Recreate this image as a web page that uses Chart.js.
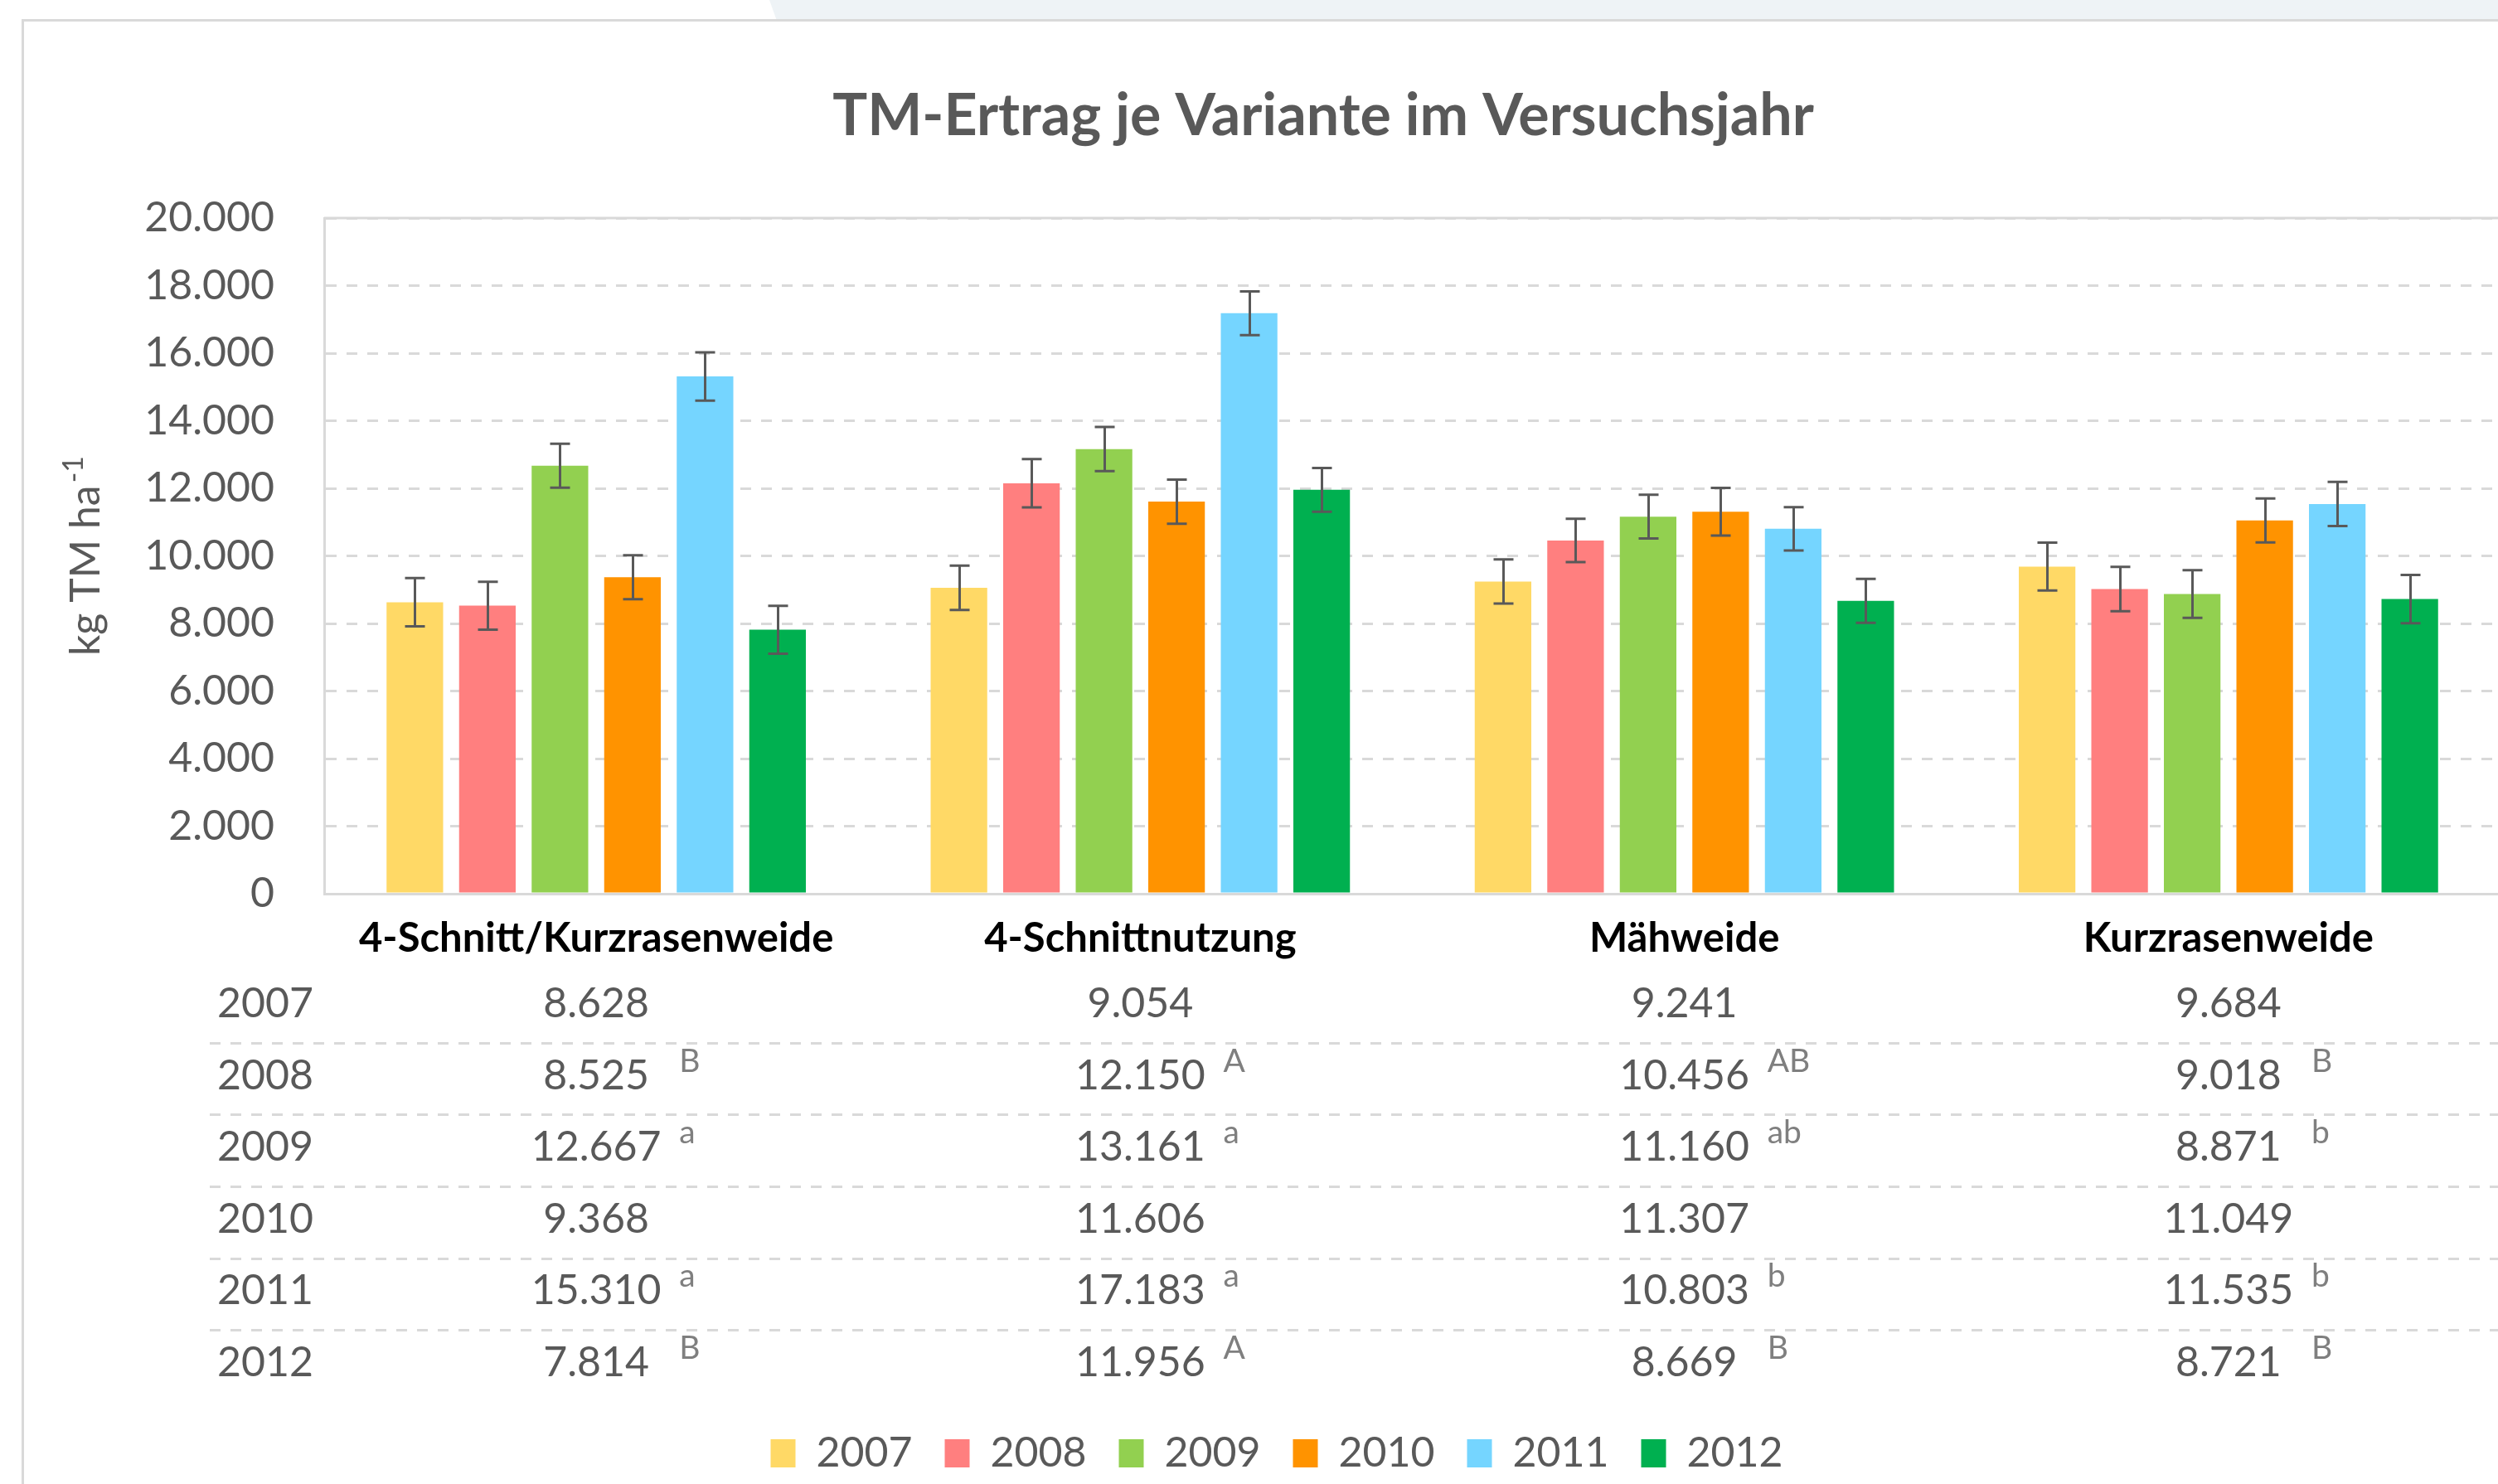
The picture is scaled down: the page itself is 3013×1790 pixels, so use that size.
<!DOCTYPE html>
<html>
<head>
<meta charset="utf-8">
<script src="https://cdn.jsdelivr.net/npm/chart.js@4.4.1/dist/chart.umd.min.js"></script>
<style>
  html, body { margin: 0; padding: 0; background: #ffffff; overflow: hidden; width: 3013px; height: 1790px; }
  #c { display: block; }
</style>
</head>
<body>
<canvas id="c" width="3080" height="1790"></canvas>
<script>
// ---------- data ----------
const chartTitle = 'TM-Ertrag je Variante im Versuchsjahr';
const yAxisTitle = 'kg TM ha';
const yAxisTitleSup = '-1';
const categories = ['4-Schnitt/Kurzrasenweide', '4-Schnittnutzung', 'Mähweide', 'Kurzrasenweide'];
const years = ['2007', '2008', '2009', '2010', '2011', '2012'];

const v2007 = [8628, 9054, 9241, 9684];
const v2008 = [8525, 12150, 10456, 9018];
const v2009 = [12667, 13161, 11160, 8871];
const v2010 = [9368, 11606, 11307, 11049];
const v2011 = [15310, 17183, 10803, 11535];
const v2012 = [7814, 11956, 8669, 8721];

// error bar half-lengths
const e2007 = [715, 655, 653, 707];
const e2008 = [710, 713, 642, 655];
const e2009 = [650, 653, 647, 707];
const e2010 = [650, 653, 707, 653];
const e2011 = [715, 647, 641, 653];
const e2012 = [710, 647, 653, 713];

// significance letters shown in the table
const s2007 = ['', '', '', ''];
const s2008 = ['B', 'A', 'AB', 'B'];
const s2009 = ['a', 'a', 'ab', 'b'];
const s2010 = ['', '', '', ''];
const s2011 = ['a', 'a', 'b', 'b'];
const s2012 = ['B', 'A', 'B', 'B'];

const yMin = 0;
const yMax = 20000;
const yStep = 2000;

// ---------- helpers ----------
const values = [v2007, v2008, v2009, v2010, v2011, v2012];
const errors = [e2007, e2008, e2009, e2010, e2011, e2012];
const letters = [s2007, s2008, s2009, s2010, s2011, s2012];
const colors = ['#FFD966', '#FF7F7F', '#92D050', '#FF9300', '#75D5FF', '#00B050'];
const FONT = 'Lato, "Open Sans", sans-serif';
const GREY = '#595959';
const LINE = '#d9d9d9';

function fmt(v) {
  v = Math.round(v);
  if (v >= 1000) return Math.floor(v / 1000) + '.' + String(v % 1000).padStart(3, '0');
  return String(v);
}

const framePlugin = {
  id: 'frame',
  beforeDraw(chart) {
    const ctx = chart.ctx, W = chart.width, H = chart.height;
    ctx.save();
    ctx.fillStyle = '#ffffff';
    ctx.fillRect(0, 0, W, H);
    ctx.fillStyle = '#eef3f6';
    ctx.beginPath();
    ctx.moveTo(928, 0); ctx.lineTo(W, 0); ctx.lineTo(W, 25); ctx.lineTo(937, 25);
    ctx.closePath(); ctx.fill();
    ctx.strokeStyle = LINE; ctx.lineWidth = 3;
    ctx.beginPath();
    ctx.moveTo(27.5, H + 5); ctx.lineTo(27.5, 24.5); ctx.lineTo(W + 5, 24.5);
    ctx.stroke();
    ctx.restore();
  },
  beforeDatasetsDraw(chart) {
    const ctx = chart.ctx, a = chart.chartArea;
    ctx.save();
    ctx.strokeStyle = LINE; ctx.lineWidth = 3;
    ctx.beginPath();
    ctx.moveTo(a.left, a.top); ctx.lineTo(a.right, a.top); ctx.lineTo(a.right, a.bottom);
    ctx.stroke();
    ctx.restore();
  }
};

const errorBarPlugin = {
  id: 'errorBars',
  afterDatasetsDraw(chart) {
    const ctx = chart.ctx, ys = chart.scales.y;
    ctx.save();
    ctx.strokeStyle = GREY; ctx.lineWidth = 3; ctx.lineCap = 'butt';
    chart.data.datasets.forEach((ds, i) => {
      const meta = chart.getDatasetMeta(i);
      meta.data.forEach((bar, j) => {
        const v = ds.data[j], e = errors[i][j];
        const x = Math.round(bar.x) + 0.5;
        const yt = ys.getPixelForValue(v + e), yb = ys.getPixelForValue(v - e);
        ctx.beginPath();
        ctx.moveTo(x, yt); ctx.lineTo(x, yb);
        ctx.moveTo(x - 12, yt); ctx.lineTo(x + 12, yt);
        ctx.moveTo(x - 12, yb); ctx.lineTo(x + 12, yb);
        ctx.stroke();
      });
    });
    ctx.restore();
  }
};

const textPlugin = {
  id: 'texts',
  afterDraw(chart) {
    const ctx = chart.ctx, a = chart.chartArea, xs = chart.scales.x;
    ctx.save();
    // title
    ctx.fillStyle = GREY;
    ctx.font = 'bold 70px ' + FONT;
    ctx.textAlign = 'center'; ctx.textBaseline = 'alphabetic';
    ctx.fillText(chartTitle, 1596, 163);

    // y-axis title (rotated) with superscript
    ctx.font = '50px ' + FONT;
    const wMain = ctx.measureText(yAxisTitle).width;
    ctx.font = '34px ' + FONT;
    const wSup = ctx.measureText(yAxisTitleSup).width;
    const total = wMain + 3 + wSup;
    const cy = (a.top + a.bottom) / 2;
    ctx.save();
    ctx.translate(120, cy + total / 2);
    ctx.rotate(-Math.PI / 2);
    ctx.textAlign = 'left';
    ctx.font = '50px ' + FONT;
    ctx.fillText(yAxisTitle, 0, 0);
    ctx.font = '34px ' + FONT;
    ctx.fillText(yAxisTitleSup, wMain + 3, -20);
    ctx.restore();

    // data table
    const row0 = a.bottom + 131;
    const pitch = 86.6;
    // separators
    ctx.strokeStyle = LINE; ctx.lineWidth = 3; ctx.setLineDash([13, 12]);
    for (let r = 0; r < years.length - 1; r++) {
      const y = Math.round(row0 + r * pitch + 48.7) + 0.5;
      ctx.beginPath(); ctx.moveTo(253, y); ctx.lineTo(chart.width, y); ctx.stroke();
    }
    ctx.setLineDash([]);
    years.forEach((yr, r) => {
      const cyRow = row0 + r * pitch;
      ctx.fillStyle = GREY;
      ctx.font = '50px ' + FONT;
      ctx.textAlign = 'left';
      ctx.fillText(yr, 262, cyRow + 18);
      categories.forEach((c, i) => {
        const x = xs.getPixelForValue(i);
        ctx.fillStyle = GREY;
        ctx.font = '50px ' + FONT;
        ctx.textAlign = 'center';
        ctx.fillText(fmt(values[r][i]), x, cyRow + 18);
        const L = letters[r][i];
        if (L) {
          ctx.fillStyle = '#7f7f7f';
          ctx.font = '39px ' + FONT;
          ctx.textAlign = 'left';
          ctx.fillText(L, x + 100, cyRow - 3);
        }
      });
    });
    ctx.restore();
  }
};

function draw() {
  const ctx = document.getElementById('c').getContext('2d');
  new Chart(ctx, {
    type: 'bar',
    data: {
      labels: categories,
      datasets: years.map((y, i) => ({
        label: y,
        data: values[i],
        backgroundColor: colors[i],
        borderWidth: 0,
        categoryPercentage: 0.8,
        barPercentage: 0.78
      }))
    },
    options: {
      responsive: false,
      animation: false,
      devicePixelRatio: 1,
      layout: { padding: { left: 64, right: 64, top: 263, bottom: 2 } },
      plugins: {
        title: { display: false },
        tooltip: { enabled: false },
        legend: {
          position: 'bottom',
          align: 'center',
          labels: {
            boxWidth: 30, boxHeight: 34, padding: 39,
            color: GREY,
            font: { family: FONT, size: 50 }
          }
        }
      },
      scales: {
        x: {
          grid: { display: false },
          border: { display: true, color: LINE, width: 3 },
          ticks: {
            color: '#000000',
            font: { family: FONT, size: 49, weight: 'bold' },
            padding: 17, maxRotation: 0, autoSkip: false
          },
          afterFit(s) { s.height = 611; }
        },
        y: {
          min: yMin, max: yMax,
          ticks: {
            stepSize: yStep,
            color: GREY,
            font: { family: FONT, size: 50 },
            padding: 60,
            callback: (v) => fmt(v)
          },
          grid: { color: LINE, lineWidth: 3, drawTicks: false },
          border: { display: true, color: LINE, width: 3, dash: [13, 12] },
          afterFit(s) { s.width = 327; }
        }
      }
    },
    plugins: [framePlugin, errorBarPlugin, textPlugin]
  });
}

if (document.fonts && document.fonts.load) {
  Promise.all([
    document.fonts.load('50px Lato'),
    document.fonts.load('bold 50px Lato')
  ]).then(draw, draw);
} else {
  draw();
}
</script>
</body>
</html>
